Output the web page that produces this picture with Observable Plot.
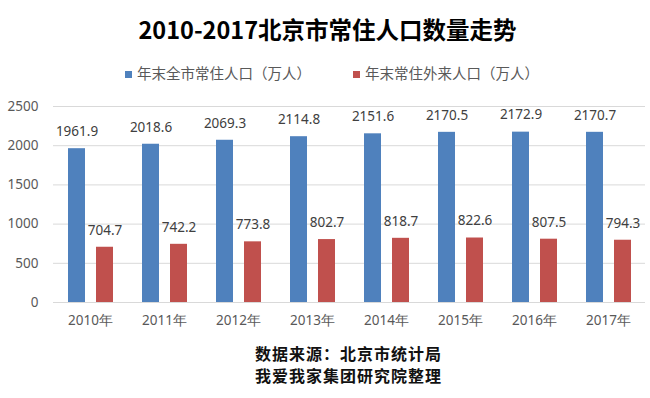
<!DOCTYPE html>
<html>
<head>
<meta charset="utf-8">
<script src="https://cdn.jsdelivr.net/npm/d3@7"></script>
<script src="https://cdn.jsdelivr.net/npm/@observablehq/plot@0.6"></script>
<style>
  body { margin: 0; background: #fff; width: 650px; overflow: hidden; }
  #title { height: 58px; line-height: 58px; text-align: center; font-family: "Noto Sans CJK SC", sans-serif; font-weight: bold; font-size: 23.5px; color: #000; padding-left: 5px; }
  #legend { height: 30px; line-height: 30px; font-family: "Noto Sans CJK SC", sans-serif; font-size: 14.5px; color: #595959; position: relative; }
  .item { position: absolute; top: 0; white-space: nowrap; }
  .sw { display: inline-block; width: 7px; height: 7px; margin-right: 5px; vertical-align: middle; position: relative; top: -1px; }
  #footer { padding-top: 8px; padding-left: 255px; font-family: "Noto Sans CJK SC", sans-serif; font-weight: bold; font-size: 16px; line-height: 22px; letter-spacing: 1px; color: #111; }
  #chart svg { display: block; }
</style>
</head>
<body>
<div id="title"></div>
<div id="legend"></div>
<div id="chart"></div>
<div id="footer"></div>
<script>
const titleText = "2010-2017北京市常住人口数量走势";
const years = ["2010年", "2011年", "2012年", "2013年", "2014年", "2015年", "2016年", "2017年"];
const seriesNames = ["年末全市常住人口（万人）", "年末常住外来人口（万人）"];
const seriesColors = ["#4F81BD", "#C0504D"];
const totalPop = [1961.9, 2018.6, 2069.3, 2114.8, 2151.6, 2170.5, 2172.9, 2170.7];
const migrantPop = [704.7, 742.2, 773.8, 802.7, 818.7, 822.6, 807.5, 794.3];
const yTicks = [0, 500, 1000, 1500, 2000, 2500];
const footerLines = ["数据来源：北京市统计局", "我爱我家集团研究院整理"];

document.getElementById("title").textContent = titleText;
const legendPos = [125, 353];
const legend = document.getElementById("legend");
seriesNames.forEach((s, i) => {
  const it = document.createElement("span");
  it.className = "item";
  it.style.left = legendPos[i] + "px";
  it.innerHTML = `<span class="sw" style="background:${seriesColors[i]}"></span>${s}`;
  legend.appendChild(it);
});
document.getElementById("footer").innerHTML = footerLines.map(l => `<div>${l}</div>`).join("");

const data = [];
years.forEach((y, i) => {
  data.push({year: y, series: seriesNames[0], value: totalPop[i]});
  data.push({year: y, series: seriesNames[1], value: migrantPop[i]});
});

const chart = Plot.plot({
  width: 650,
  height: 246,
  marginTop: 18,
  marginBottom: 32,
  marginLeft: 52,
  marginRight: 5,
  style: {fontFamily: "'Noto Sans', sans-serif", fontSize: "13.5px", color: "#595959"},
  fx: {domain: years, padding: 0, label: null, tickSize: 0, tickPadding: 13, axis: "bottom"},
  x: {domain: seriesNames, paddingInner: 0.41, paddingOuter: 0.5, axis: null},
  y: {domain: [0, 2500], ticks: yTicks, tickFormat: d => String(d), label: null, tickSize: 0, tickPadding: 15},
  color: {domain: seriesNames, range: seriesColors},
  marks: [
    Plot.gridY(yTicks, {stroke: "#d9d9d9", strokeOpacity: 1, strokeWidth: 1}),
    Plot.barY(data, {fx: "year", x: "series", y: "value", fill: "series"}),
    Plot.text(data, {fx: "year", x: "series", y: "value", text: d => d.value.toFixed(1), dy: -17, fill: "#404040", fontSize: 13.5, lineAnchor: "middle"})
  ]
});
document.getElementById("chart").appendChild(chart);
</script>
</body>
</html>
